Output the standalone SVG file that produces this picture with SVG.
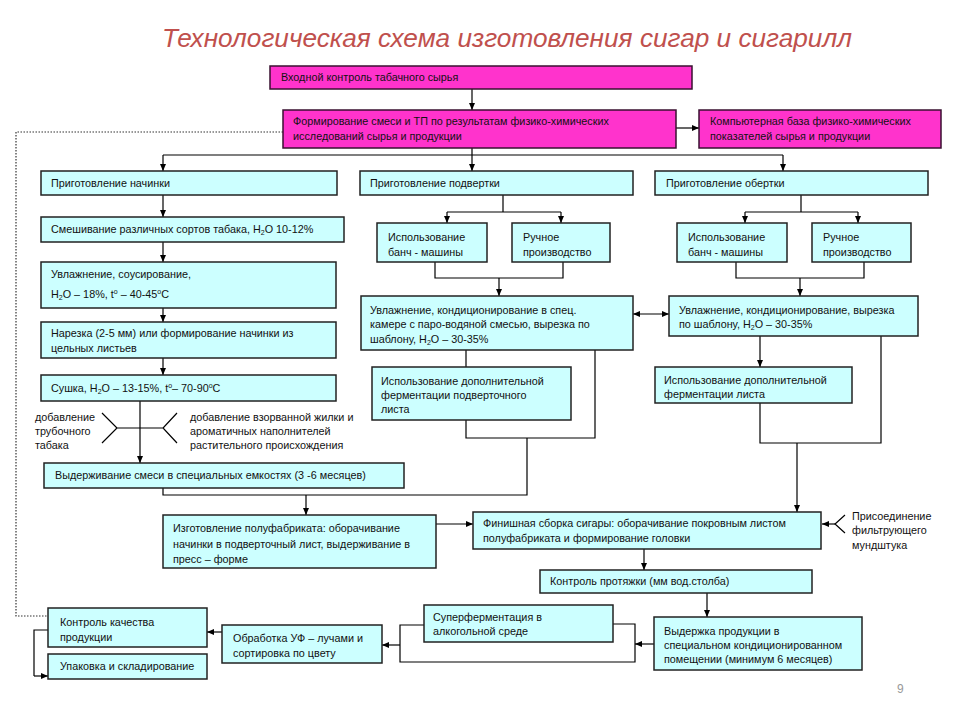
<svg xmlns="http://www.w3.org/2000/svg" width="960" height="720" viewBox="0 0 960 720">
<defs>
<style>
.m{fill:#FF33CC;stroke:#3a1030;stroke-width:1.5}
.c{fill:#CCFFFF;stroke:#222;stroke-width:1.5}
text{font-family:"Liberation Sans",Arial,sans-serif;font-size:10.8px;fill:#111}
.ln{fill:none;stroke:#000;stroke-width:1.2}
.ar{fill:none;stroke:#000;stroke-width:1.2;marker-end:url(#ah)}
.dot{fill:none;stroke:#333;stroke-width:1.2;stroke-dasharray:1.5 1.5}
.title{font-size:25px;font-style:italic;fill:#C0504D}
</style>
<marker id="ah" markerWidth="8" markerHeight="8" refX="7" refY="4" orient="auto-start-reverse" markerUnits="userSpaceOnUse"><path d="M0,1 L7,4 L0,7 z" fill="#000"/></marker>
</defs>
<rect width="960" height="720" fill="#fff"/>
<text class="title" x="507" y="47" text-anchor="middle" textLength="690" lengthAdjust="spacingAndGlyphs">Технологическая схема изготовления сигар и сигарилл</text>

<g id="connectors">
<path class="ar" d="M472,89 V110"/>
<path class="ar" d="M676,128 H699"/>
<path class="ln" d="M472,148 V155 M163,155 H783"/>
<path class="ar" d="M163,155 V171"/>
<path class="ar" d="M472,155 V171"/>
<path class="ar" d="M783,155 V171"/>
<path class="dot" d="M283,132 H16 V616 H48"/>
<path class="ar" d="M163,195 V217"/>
<path class="ar" d="M163,242 V262"/>
<path class="ar" d="M163,308 V322"/>
<path class="ar" d="M163,358 V375"/>
<path class="ar" d="M140,401 V463"/>
<path class="ln" d="M102,413 L117,428 L102,443 M117,428 H163 M177,413 L163,428 L177,443"/>
<path class="ln" d="M503,195 V212 M447,212 H561"/>
<path class="ar" d="M447,212 V223"/>
<path class="ar" d="M561,212 V223"/>
<path class="ln" d="M435,262 V278 H563 V262"/>
<path class="ar" d="M499,278 V296"/>
<path class="ln" d="M801,195 V212 M745,212 H858"/>
<path class="ar" d="M745,212 V223"/>
<path class="ar" d="M858,212 V223"/>
<path class="ln" d="M736,262 V278 H864 V262"/>
<path class="ar" d="M800,278 V296"/>
<path class="ln" d="M633,314 H669" marker-start="url(#ah)" marker-end="url(#ah)"/>
<path class="ln" d="M466,350 V367 M466,420 V438 H595 V350"/>
<path class="ln" d="M527,438 V495 H163 V488"/>
<path class="ar" d="M306,495 V515"/>
<path class="ar" d="M760,336 V367"/>
<path class="ln" d="M760,403 V443 H881 V336"/>
<path class="ar" d="M797,443 V512"/>
<path class="ar" d="M436,524 H473"/>
<path class="ar" d="M835,524 H822"/>
<path class="ln" d="M845,515 L835,524 L845,533"/>
<path class="ar" d="M644,549 V570"/>
<path class="ar" d="M707,593 V617"/>
<path class="ar" d="M654,644 H635"/>
<path class="ln" d="M613,624 H635 V662 H400 V625 H424"/>
<path class="ar" d="M400,645 H382"/>
<path class="ar" d="M222,632 H207"/>
<path class="ln" d="M48,630 H34 V676"/>
<path class="ar" d="M34,676 H48"/>
</g>

<g id="n1"><rect class="m" x="270" y="66" width="422" height="23"/><text x="281" y="81">Входной контроль табачного сырья</text></g>
<g id="n2"><rect class="m" x="283" y="110" width="393" height="38"/><text x="293" y="125">Формирование смеси и ТП по результатам физико-химических</text><text x="293" y="140">исследований сырья и продукции</text></g>
<g id="n3"><rect class="m" x="699" y="110" width="242" height="38"/><text x="710" y="125">Компьютерная база физико-химических</text><text x="710" y="140">показателей сырья и продукции</text></g>

<g id="n4"><rect class="c" x="41" y="171" width="296" height="24"/><text x="51" y="187">Приготовление начинки</text></g>
<g id="n5"><rect class="c" x="41" y="217" width="303" height="25"/><text x="51" y="233">Смешивание различных сортов табака, H<tspan font-size="7" dy="2">2</tspan><tspan dy="-2">O 10-12%</tspan></text></g>
<g id="n6"><rect class="c" x="41" y="262" width="295" height="46"/><text x="51" y="278">Увлажнение, соусирование,</text><text x="51" y="298">H<tspan font-size="7" dy="2">2</tspan><tspan dy="-2">O – 18%, t</tspan><tspan font-size="7" dy="-4">o</tspan><tspan dy="4"> – 40-45</tspan><tspan font-size="7" dy="-4">o</tspan><tspan dy="4">C</tspan></text></g>
<g id="n7"><rect class="c" x="41" y="322" width="295" height="36"/><text x="51" y="337">Нарезка (2-5 мм) или формирование начинки из</text><text x="51" y="352">цельных листьев</text></g>
<g id="n8"><rect class="c" x="41" y="375" width="295" height="26"/><text x="51" y="392">Сушка, H<tspan font-size="7" dy="2">2</tspan><tspan dy="-2">O – 13-15%, t</tspan><tspan font-size="7" dy="-4">o</tspan><tspan dy="4">– 70-90</tspan><tspan font-size="7" dy="-4">o</tspan><tspan dy="4">C</tspan></text></g>
<g id="l1"><text x="35" y="421">добавление</text><text x="35" y="435">трубочного</text><text x="35" y="449">табака</text></g>
<g id="l2"><text x="190" y="421">добавление взорванной жилки и</text><text x="190" y="435">ароматичных наполнителей</text><text x="190" y="449">растительного происхождения</text></g>
<g id="n9"><rect class="c" x="44" y="463" width="360" height="25"/><text x="55" y="479">Выдерживание смеси в специальных емкостях (3 -6 месяцев)</text></g>
<g id="n10"><rect class="c" x="163" y="515" width="273" height="53"/><text x="173" y="532">Изготовление полуфабриката: оборачивание</text><text x="173" y="548">начинки в подверточный лист, выдерживание в</text><text x="173" y="563">пресс – форме</text></g>

<g id="n11"><rect class="c" x="360" y="171" width="273" height="24"/><text x="370" y="187">Приготовление подвертки</text></g>
<g id="n12"><rect class="c" x="377" y="223" width="110" height="39"/><text x="388" y="241">Использование</text><text x="388" y="256">банч - машины</text></g>
<g id="n13"><rect class="c" x="512" y="223" width="98" height="39"/><text x="523" y="241">Ручное</text><text x="523" y="256">производство</text></g>
<g id="n14"><rect class="c" x="361" y="296" width="272" height="54"/><text x="370" y="314">Увлажнение, кондиционирование в спец.</text><text x="370" y="328">камере с паро-водяной смесью, вырезка по</text><text x="370" y="343">шаблону, H<tspan font-size="7" dy="2">2</tspan><tspan dy="-2">O – 30-35%</tspan></text></g>
<g id="n15"><rect class="c" x="372" y="367" width="199" height="53"/><text x="381" y="385">Использование дополнительной</text><text x="381" y="399">ферментации подверточного</text><text x="381" y="413">листа</text></g>

<g id="n16"><rect class="c" x="655" y="171" width="273" height="24"/><text x="666" y="187">Приготовление обертки</text></g>
<g id="n17"><rect class="c" x="677" y="223" width="110" height="39"/><text x="688" y="241">Использование</text><text x="688" y="256">банч - машины</text></g>
<g id="n18"><rect class="c" x="812" y="223" width="99" height="39"/><text x="823" y="241">Ручное</text><text x="823" y="256">производство</text></g>
<g id="n19"><rect class="c" x="669" y="296" width="249" height="40"/><text x="679" y="314">Увлажнение, кондиционирование, вырезка</text><text x="679" y="328">по шаблону, H<tspan font-size="7" dy="2">2</tspan><tspan dy="-2">O – 30-35%</tspan></text></g>
<g id="n20"><rect class="c" x="655" y="367" width="197" height="36"/><text x="664" y="384">Использование дополнительной</text><text x="664" y="398">ферментации листа</text></g>

<g id="n21"><rect class="c" x="473" y="512" width="348" height="37"/><text x="483" y="527">Финишная сборка сигары: оборачивание покровным листом</text><text x="483" y="542">полуфабриката и формирование головки</text></g>
<g id="l3"><text x="852" y="520">Присоединение</text><text x="852" y="534">фильтрующего</text><text x="852" y="549">мундштука</text></g>
<g id="n22"><rect class="c" x="540" y="570" width="272" height="23"/><text x="550" y="585">Контроль протяжки (мм вод.столба)</text></g>
<g id="n23"><rect class="c" x="654" y="617" width="208" height="53"/><text x="664" y="635">Выдержка продукции в</text><text x="664" y="649">специальном кондиционированном</text><text x="664" y="663">помещении (минимум 6 месяцев)</text></g>
<g id="n24"><rect class="c" x="424" y="605" width="189" height="37"/><text x="433" y="621">Суперферментация в</text><text x="433" y="635">алкогольной среде</text></g>
<g id="n25"><rect class="c" x="222" y="625" width="160" height="38"/><text x="233" y="642">Обработка УФ – лучами и</text><text x="233" y="657">сортировка по цвету</text></g>
<g id="n26"><rect class="c" x="48" y="608" width="159" height="39"/><text x="60" y="626">Контроль качества</text><text x="60" y="641">продукции</text></g>
<g id="n27"><rect class="c" x="48" y="654" width="159" height="25"/><text x="60" y="670">Упаковка и складирование</text></g>
<text x="897" y="693" style="font-size:12px;fill:#999">9</text>
</svg>
